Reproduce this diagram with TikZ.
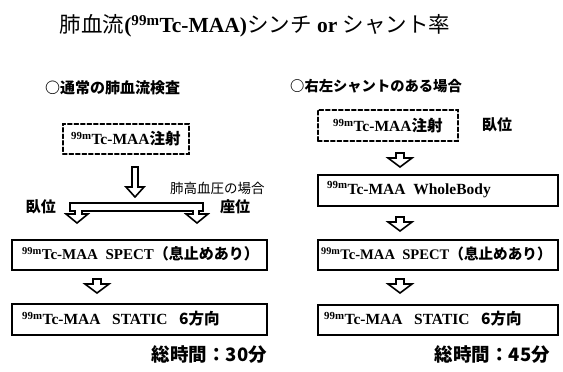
\documentclass[tikz,border=0pt]{standalone}
\usepackage{fontspec}
\setmainfont{Liberation Serif}
\newfontfamily\jpfont{Noto Sans CJK JP}
\newcommand\tcm{{\bfseries\textsuperscript{99m}Tc-MAA}}
\newcommand\jb[1]{{\jpfont\bfseries #1}}
\begin{document}
\begin{tikzpicture}[x=1pt,y=-1pt,
  box/.style={draw, line width=1.7pt, minimum height=30pt, inner sep=0pt, anchor=north west},
  dbox/.style={box, dash pattern=on 4pt off 2.5pt, line cap=round},
  ltext/.style={align=left, font=\fontsize{15.5}{18}\selectfont},
  arr/.style={draw, line width=1.6pt, line join=miter, fill=white},
  lab/.style={inner sep=0pt, font=\fontsize{15}{18}\selectfont},
  sarrow/.pic={\path[arr] (-4,0)--(4,0)--(4,5)--(12,5)--(0,14)--(-12,5)--(-4,5)--cycle;}
]
\useasboundingbox (0,0) rectangle (563,372);
% title
\node[inner sep=0pt, font=\fontsize{21.5}{26}\selectfont] (title) at (255,26)
  {{\jpfont 肺血流}{\bfseries(\textsuperscript{99m}Tc-MAA)}{\jpfont シンチ}\ {\bfseries or}\ {\jpfont シャント率}};
% headings
\node[lab, anchor=west] (hl) at (45,88) {\jb{○通常の肺血流検査}};
\node[lab, anchor=west, font=\fontsize{14.3}{18}\selectfont] (hr) at (290,86) {\jb{○右左シャントのある場合}};
% left column
\node[dbox, minimum width=126pt, font=\fontsize{15.5}{18}\selectfont] (L0) at (62,123) {\tcm\jb{注射}};
\node[box, minimum width=255pt, minimum height=30pt] (L1) at (11,239) {};
\node[ltext, anchor=west, inner sep=0pt, font=\fontsize{15}{18}\selectfont] (L1t) at (22,254) {\tcm\ \ {\bfseries SPECT}\jb{（息止めあり）}};
\node[box, minimum width=255pt, minimum height=31pt] (L2) at (11,303) {};
\node[ltext, anchor=west, inner sep=0pt] (L2t) at (22,318.5) {\tcm\ \ \ {\bfseries STATIC}\ \ \ \jb{6方向}};
% big arrow and split bar
\path[arr] (132,167)--(138,167)--(138,187)--(144,187)--(135,197)--(126,187)--(132,187)--cycle;
\path[arr] (70,203)--(203,203)--(203,211)--(199,211)--(199,214)--(208,214)--(197,223)--(186,214)--(193,214)--(193,211)
  --(82,211)--(82,214)--(88,214)--(77,223)--(66,214)--(75,214)--(75,211)--(70,211)--cycle;
\node[lab] (lw) at (41,207) {\jb{臥位}};
\node[lab] (lz) at (235,207) {\jb{座位}};
\node[inner sep=0pt, anchor=west, font=\fontsize{13.5}{16}\selectfont] (ph) at (170,188) {\jpfont 肺高血圧の場合};
\pic at (97,279) {sarrow};
\node[lab, anchor=east] (tl) at (267,355) {\fontsize{18.5}{22}\selectfont\jb{総時間：30分}};
% right column
\node[dbox, minimum width=140pt, minimum height=31pt, font=\fontsize{15.5}{18}\selectfont] (R0) at (317,109) {\tcm\jb{注射}};
\node[lab] (rw) at (497,125) {\jb{臥位}};
\node[box, minimum width=240pt, minimum height=31pt] (R1) at (317,174) {};
\node[ltext, anchor=west, inner sep=0pt] (R1t) at (327,189.5) {\tcm\ \ {\bfseries WholeBody}};
\node[box, minimum width=240pt, minimum height=30pt] (R2) at (317,239) {};
\node[ltext, anchor=west, inner sep=0pt, font=\fontsize{14.6}{18}\selectfont] (R2t) at (321,254) {\tcm\ \ {\bfseries SPECT}\jb{（息止めあり）}};
\node[box, minimum width=240pt, minimum height=30pt] (R3) at (317,304) {};
\node[ltext, anchor=west, inner sep=0pt] (R3t) at (324,319) {\tcm\ \ \ {\bfseries STATIC}\ \ \ \jb{6方向}};
\pic at (400,153) {sarrow};
\pic at (400,217) {sarrow};
\pic at (400,279) {sarrow};
\node[lab, anchor=east] (tr) at (550,355) {\fontsize{18.5}{22}\selectfont\jb{総時間：45分}};
\end{tikzpicture}
\end{document}
